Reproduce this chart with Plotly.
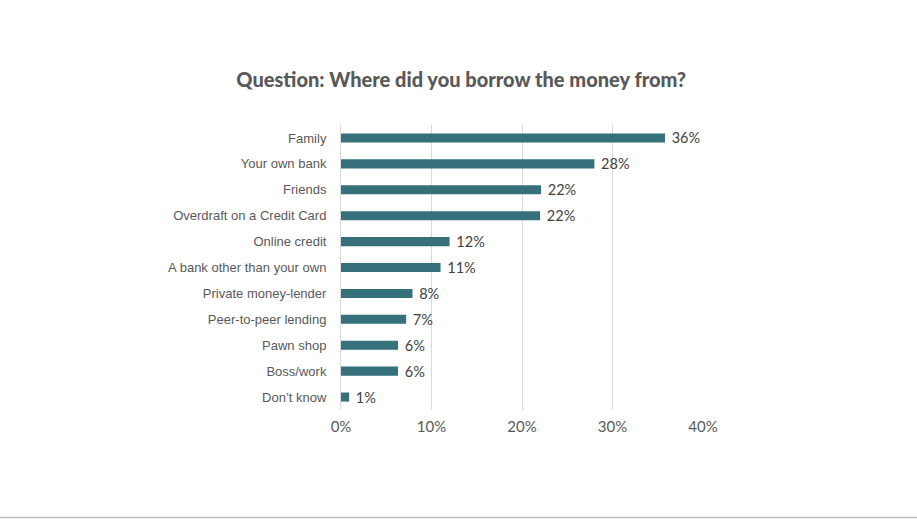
import plotly.graph_objects as go

# Survey responses: where respondents borrowed money from (share of respondents, %)
categories = [
    "Family",
    "Your own bank",
    "Friends",
    "Overdraft on a Credit Card",
    "Online credit",
    "A bank other than your own",
    "Private money-lender",
    "Peer-to-peer lending",
    "Pawn shop",
    "Boss/work",
    "Don\u2019t know",
]
shares = [35.8, 28.0, 22.1, 22.0, 12.0, 11.0, 7.9, 7.2, 6.3, 6.3, 0.9]

x_ticks = [0, 10, 20, 30, 40]
x_tick_labels = ["0%", "10%", "20%", "30%", "40%"]

bar_color = "#35707B"
text_color = "#595959"

fig = go.Figure(
    go.Bar(
        x=shares,
        y=categories,
        orientation="h",
        marker=dict(color=bar_color, line=dict(width=0)),
        texttemplate="\u00a0%{x:.0f}%",
        textposition="outside",
        constraintext="none",
        cliponaxis=False,
        textfont=dict(family="Lato", size=14.5, color="#404040"),
        hoverinfo="skip",
    )
)

fig.update_layout(
    width=917,
    height=519,
    margin=dict(l=341, r=214, t=125, b=109),
    paper_bgcolor="white",
    plot_bgcolor="white",
    bargap=0.65,
    showlegend=False,
    title=dict(
        text="Question: Where did you borrow the money from?",
        x=0.503,
        xanchor="center",
        y=0.845,
        yanchor="middle",
        font=dict(family="Lato", size=20, color=text_color, weight=900),
    ),
    xaxis=dict(
        range=[0, 40],
        tickvals=x_ticks,
        ticktext=x_tick_labels,
        showgrid=True,
        gridcolor="#D9D9D9",
        gridwidth=1,
        zeroline=False,
        showline=False,
        ticks="",
        tickfont=dict(family="Lato", size=15, color=text_color),
        ticklabelstandoff=6,
    ),
    yaxis=dict(
        categoryorder="array",
        categoryarray=categories,
        autorange="reversed",
        showgrid=False,
        zeroline=False,
        showline=True,
        linecolor="#D9D9D9",
        linewidth=1,
        ticks="",
        tickfont=dict(family="Liberation Sans", size=13, color=text_color),
        ticklabelstandoff=11,
    ),
    shapes=[
        dict(
            type="line",
            xref="paper",
            yref="paper",
            x0=-341 / 362,
            x1=(917 - 341) / 362,
            y0=-(517.5 - 410) / 285,
            y1=-(517.5 - 410) / 285,
            line=dict(color="#BFBFBF", width=1.5),
        )
    ],
)

fig.write_html("out.html")
